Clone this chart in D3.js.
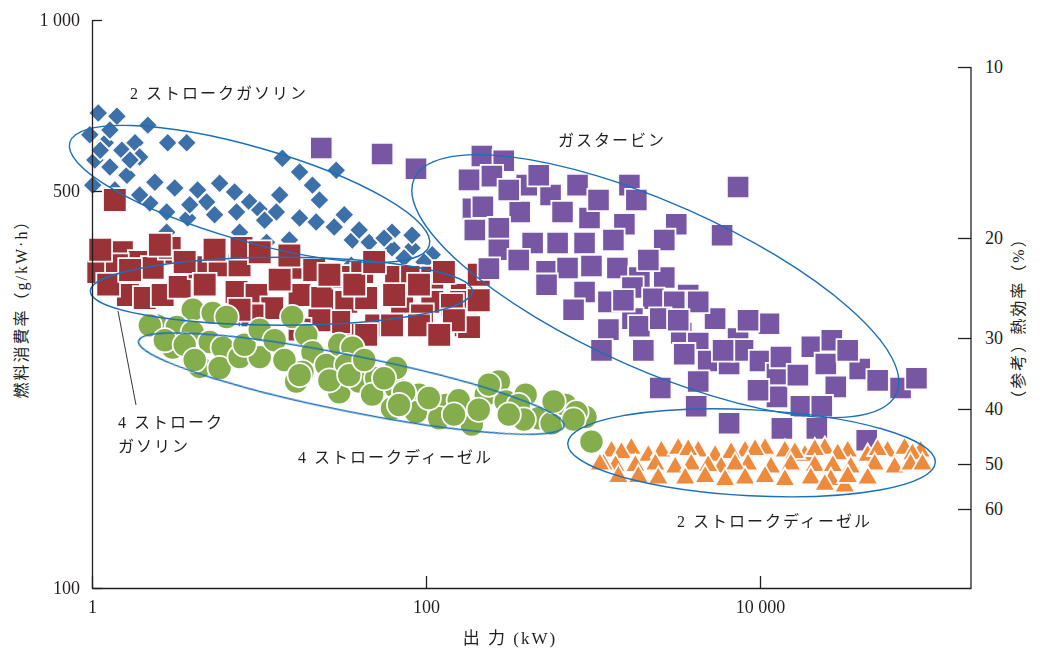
<!DOCTYPE html>
<html>
<head>
<meta charset="utf-8">
<script src="https://cdn.jsdelivr.net/npm/d3@7"></script>
<style>
    body { margin: 0; background: #fff; }
    svg text { fill: #231f20; }
    .num { font-family: "Liberation Serif", "DejaVu Serif", serif; font-size: 18px; }
    .jp { font-family: "Liberation Serif", "Noto Sans CJK JP", serif; font-size: 16px; letter-spacing: 2px; }
</style>
</head>
<body>
<div id="chart"></div>
<script>
// axis ticks
const fuelTicks = [100, 500, 1000];          // g/kW·h
const powerTicks = [1, 100, 10000];          // kW
const effTicks = [10, 20, 30, 40, 50, 60];   // %
const EFF_K = 8265;                          // g/kW·h × %  (bsfc = K / efficiency)

// [output kW, fuel consumption g/kW·h]
const twoStrokeGasoline = [
    [1.09, 686], [1.41, 677], [2.16, 653], [0.97, 628], [1.20, 608], [1.51, 590], [1.81, 608],
    [2.84, 608], [3.69, 608], [1.28, 551], [1.62, 533], [2.38, 518], [3.13, 506], [4.29, 502],
    [4.86, 478], [5.81, 516], [7.14, 498], [8.78, 478], [7.34, 459], [2.22, 476], [2.80, 459],
    [3.74, 448], [2.80, 423], [11.1, 406], [13.3, 492], [13.8, 571], [17.5, 540], [20.9, 512],
    [29.0, 544], [17.5, 448], [22.0, 441], [28.2, 432], [36.2, 410], [45.7, 406], [62.6, 397],
    [82.5, 397], [109, 386], [35.7, 370], [50.9, 381], [10.1, 463], [12.7, 459], [1.01, 512],
    [1.28, 640], [1.93, 574], [1.04, 567], [15.2, 410], [62.6, 423], [82.5, 418],
    [1.12, 590], [1.69, 567], [1.37, 502], [1.93, 492], [3.85, 473], [5.42, 454], [10.8, 444],
    [23.0, 482], [32.4, 454], [39.8, 427], [56.1, 413], [73.9, 381], [97.3, 375], [7.65, 423]
];

const fourStrokeGasoline = [
    [1.37, 482], [1.51, 390], [1.09, 360], [1.93, 375], [2.92, 390], [2.31, 366], [1.64, 328],
    [2.07, 324], [2.65, 328], [3.35, 339], [4.41, 367], [5.81, 370], [7.65, 370], [7.34, 332],
    [9.67, 328], [12.0, 311], [16.7, 366], [21.4, 363], [17.5, 328], [23.9, 324], [33.3, 319],
    [43.8, 324], [66.2, 353], [82.5, 353], [109, 352], [71.9, 319], [109, 319], [164, 328],
    [173, 290], [50.3, 290], [36.2, 279], [8.78, 302], [1.41, 370], [32.4, 353], [41.5, 360],
    [162, 319], [9.15, 302], [30.2, 294], [43.8, 279], [62.6, 290], [94.6, 302], [181, 288],
    [143, 315], [7.86, 397], [2.92, 397],
    [1.12, 394], [1.25, 342], [1.69, 363], [2.55, 402], [3.59, 375], [4.73, 342], [5.42, 394],
    [10.1, 390], [13.3, 349], [15.2, 385], [26.4, 356], [37.2, 342], [48.9, 375], [64.4, 328],
    [90.8, 342], [128, 360], [147, 296], [207, 321], [207, 356], [7.65, 309], [23.0, 296],
    [17.5, 285], [90.8, 290], [120, 279]
];

const fourStrokeDiesel = [
    [4.01, 309], [5.28, 305], [6.40, 300], [2.44, 290], [3.22, 288], [4.01, 282], [5.07, 271],
    [6.06, 265], [4.41, 245], [5.81, 244], [7.65, 255], [10.1, 255], [15.8, 300], [19.2, 279],
    [20.9, 260], [25.3, 247], [16.7, 231], [30.2, 268], [36.2, 265], [33.3, 247], [30.2, 221],
    [39.8, 231], [50.3, 234], [47.6, 219], [66.2, 225], [90.8, 219], [62.6, 207], [87.1, 204],
    [132, 210], [120, 199], [188, 194], [273, 231], [228, 219], [300, 213], [395, 219],
    [473, 199], [565, 195], [685, 210], [902, 200], [979, 181], [797, 204], [3.04, 265],
    [66.2, 244], [18.2, 240],
    [2.22, 290], [2.73, 273], [3.59, 268], [4.12, 252], [8.19, 268], [10.1, 285], [12.4, 273],
    [14.2, 252], [17.5, 237], [26.4, 232], [34.7, 237], [42.7, 252], [56.1, 234], [73.9, 221],
    [69.0, 210], [104, 216], [157, 214], [147, 202], [238, 228], [359, 210], [385, 198],
    [581, 213], [765, 198], [313, 202], [207, 206]
];

const gasTurbine = [
    [23.6, 595], [54.6, 581], [87.1, 547], [216, 576], [292, 565], [248, 531], [401, 512],
    [557, 492], [808, 512], [1652, 512], [1818, 482], [7390, 508], [191, 465], [219, 469],
    [364, 459], [657, 459], [953, 448], [1542, 437], [3152, 437], [5930, 418], [196, 427],
    [273, 430], [273, 394], [435, 405], [614, 405], [890, 405], [2672, 410], [238, 365],
    [527, 361], [704, 366], [979, 369], [1400, 366], [1895, 352], [2672, 352], [3716, 328],
    [527, 342], [890, 332], [1237, 319], [1722, 338], [2298, 323], [3066, 319], [5383, 298],
    [1722, 298], [1237, 285], [1895, 289], [2529, 298], [3376, 281], [4266, 270], [7390, 275],
    [11314, 292], [1124, 262], [2002, 262], [3518, 258], [4894, 251], [6531, 248], [7914, 262],
    [10000, 251], [12635, 238], [13350, 255], [20430, 266], [26915, 273], [24774, 248],
    [39537, 243], [28425, 226], [12635, 217], [17570, 209], [23440, 209], [2529, 225],
    [4150, 209], [6531, 195], [13520, 191], [21890, 191], [43540, 182], [69470, 225],
    [86500, 234], [4266, 231],
    [181, 523], [313, 502], [473, 533], [1079, 482], [1325, 410], [2145, 378], [4266, 319],
    [6012, 262], [9730, 223], [16860, 237], [33500, 262], [50650, 232], [359, 378], [765, 309],
    [1521, 321], [3239, 296], [8480, 296]
];

const twoStrokeDiesel = [
    [1290, 174], [1698, 176], [2145, 171], [2566, 174], [3239, 176], [4266, 174], [5386, 171],
    [8137, 174], [10713, 176], [14094, 174], [18565, 171], [24440, 176], [33530, 174],
    [44140, 171], [58080, 174], [73400, 176], [91450, 174],
    [1480, 173], [3716, 175], [6714, 173], [9340, 175], [16180, 173], [21300, 175], [29220, 172],
    [50650, 175], [81850, 172],
    [1363, 164], [2362, 165], [3108, 163], [3873, 165], [5848, 163], [8480, 165], [11634, 163],
    [15310, 165], [21300, 164], [34950, 163], [48600, 165], [63970, 163], [79700, 165],
    [1155, 165], [1793, 164], [4894, 164], [7096, 165], [27290, 164], [93970, 165],
    [1869, 157], [3565, 156], [4695, 157], [6180, 155], [8137, 156], [10713, 157], [14094, 155],
    [20159, 156], [26550, 155], [24440, 152], [32170, 151], [1100, 165],
    [1419, 157], [2460, 156], [33530, 157], [44140, 156]
];

// group outlines: centre in data units
const groupOutlines = [
    { kw: 8.78, g: 494, rx: 187, ry: 47, rot: 16 },
    { kw: 13.6, g: 333, rx: 191, ry: 34, rot: 0 },
    { kw: 35.7, g: 229, rx: 217, ry: 28, rot: 11.3 },
    { kw: 2362, g: 340, rx: 264, ry: 83, rot: 24 },
    { kw: 8895, g: 173, rx: 184, ry: 43, rot: 3 }
];

const W = 1045, H = 650;
const plot = { left: 92, right: 971, top: 20, bottom: 588 };

const svg = d3.select('#chart').append('svg')
    .attr('width', W)
    .attr('height', H);

const x = d3.scaleLog().domain([1, 1e4]).range([plot.left, 760]);
x.domain([1, x.invert(plot.right)]).range([plot.left, plot.right]);
const y = d3.scaleLog().domain([100, 1000]).range([plot.bottom, plot.top]);
const yEff = d3.scaleLog().domain([EFF_K / 100, EFF_K / 1000]).range([plot.bottom, plot.top]);

const defs = svg.append('defs');
defs.append('filter').attr('id', 'soft')
    .append('feGaussianBlur').attr('stdDeviation', 0.45);

const series = [
    { data: twoStrokeGasoline, type: d3.symbolSquare, size: 200, rot: 45, color: '#3d6fa8' },
    { data: fourStrokeGasoline, type: d3.symbolSquare, size: 560, rot: 0, color: '#9a3237' },
    { data: gasTurbine, type: d3.symbolSquare, size: 500, rot: 0, color: '#7757a3' },
    { data: fourStrokeDiesel, type: d3.symbolCircle, size: 460, rot: 0, color: '#84ad4b' },
    { data: twoStrokeDiesel, type: d3.symbolTriangle, size: 190, rot: 0, color: '#ee8a3b' }
];

const marks = svg.append('g').attr('filter', 'url(#soft)');
series.forEach(s => {
    marks.append('g')
        .selectAll('path')
        .data(s.data)
        .enter().append('path')
        .attr('d', d3.symbol().type(s.type).size(s.size))
        .attr('transform', d => `translate(${x(d[0])},${y(d[1])}) rotate(${s.rot})`)
        .attr('fill', s.color)
        .attr('stroke', '#fbfbfd')
        .attr('stroke-width', 1.8);
});

// outlines around each group
svg.append('g')
    .selectAll('ellipse')
    .data(groupOutlines)
    .enter().append('ellipse')
    .attr('transform', d => `translate(${x(d.kw)},${y(d.g)}) rotate(${d.rot})`)
    .attr('rx', d => d.rx)
    .attr('ry', d => d.ry)
    .attr('fill', 'none')
    .attr('stroke', '#1b6fb8')
    .attr('stroke-width', 1.4);

// leader line for 4-stroke gasoline label
svg.append('line')
    .attr('x1', 118).attr('y1', 311)
    .attr('x2', 136).attr('y2', 405)
    .attr('stroke', '#231f20')
    .attr('stroke-width', 0.9);

const labels = [
    { text: '2 ストロークガソリン', x: 130, y: 99 },
    { text: 'ガスタービン', x: 558, y: 146 },
    { text: '4 ストローク', x: 118, y: 428 },
    { text: 'ガソリン', x: 118, y: 452 },
    { text: '4 ストロークディーゼル', x: 298, y: 463 },
    { text: '2 ストロークディーゼル', x: 677, y: 527 }
];
svg.append('g')
    .selectAll('text')
    .data(labels)
    .enter().append('text')
    .attr('class', 'jp')
    .attr('x', d => d.x)
    .attr('y', d => d.y)
    .text(d => d.text);

// axes
const fmt = v => d3.format(',')(v).replace(/,/g, ' ');

function styleAxis(g) {
    g.attr('font-family', null).attr('font-size', null);
    g.selectAll('text').attr('class', 'num').attr('fill', '#231f20');
    g.selectAll('line, path').attr('stroke', '#231f20').attr('stroke-width', 1.3);
}

svg.append('g')
    .attr('transform', `translate(${plot.left},0)`)
    .call(d3.axisLeft(y).tickValues(fuelTicks).tickFormat(fmt)
        .tickSizeInner(-10).tickSizeOuter(0).tickPadding(12))
    .call(styleAxis);

svg.append('g')
    .attr('transform', `translate(0,${plot.bottom})`)
    .call(d3.axisBottom(x).tickValues(powerTicks).tickFormat(fmt)
        .tickSizeInner(-12).tickSizeOuter(0).tickPadding(12))
    .call(styleAxis);

const right = svg.append('g')
    .attr('transform', `translate(${plot.right},0)`)
    .call(d3.axisRight(yEff).tickValues(effTicks).tickFormat(d3.format('d'))
        .tickSizeInner(-13).tickSizeOuter(0).tickPadding(14))
    .call(styleAxis);
right.select('.domain').remove();
right.append('line')
    .attr('x1', 0).attr('x2', 0)
    .attr('y1', yEff(effTicks[0])).attr('y2', plot.bottom)
    .attr('stroke', '#231f20')
    .attr('stroke-width', 1.3);

// axis titles
svg.append('text')
    .attr('class', 'jp')
    .attr('text-anchor', 'middle')
    .attr('transform', 'translate(27,305) rotate(-90)')
    .text('燃料消費率（g/kW·h）');

svg.append('text')
    .attr('class', 'jp')
    .attr('text-anchor', 'middle')
    .attr('transform', 'translate(1024,318) rotate(-90)')
    .text('（参考）熱効率（%）');

svg.append('text')
    .attr('class', 'jp')
    .attr('text-anchor', 'middle')
    .attr('x', 510)
    .attr('y', 644)
    .style('font-size', '17px')
    .text('出 力 (kW)');
</script>
</body>
</html>
